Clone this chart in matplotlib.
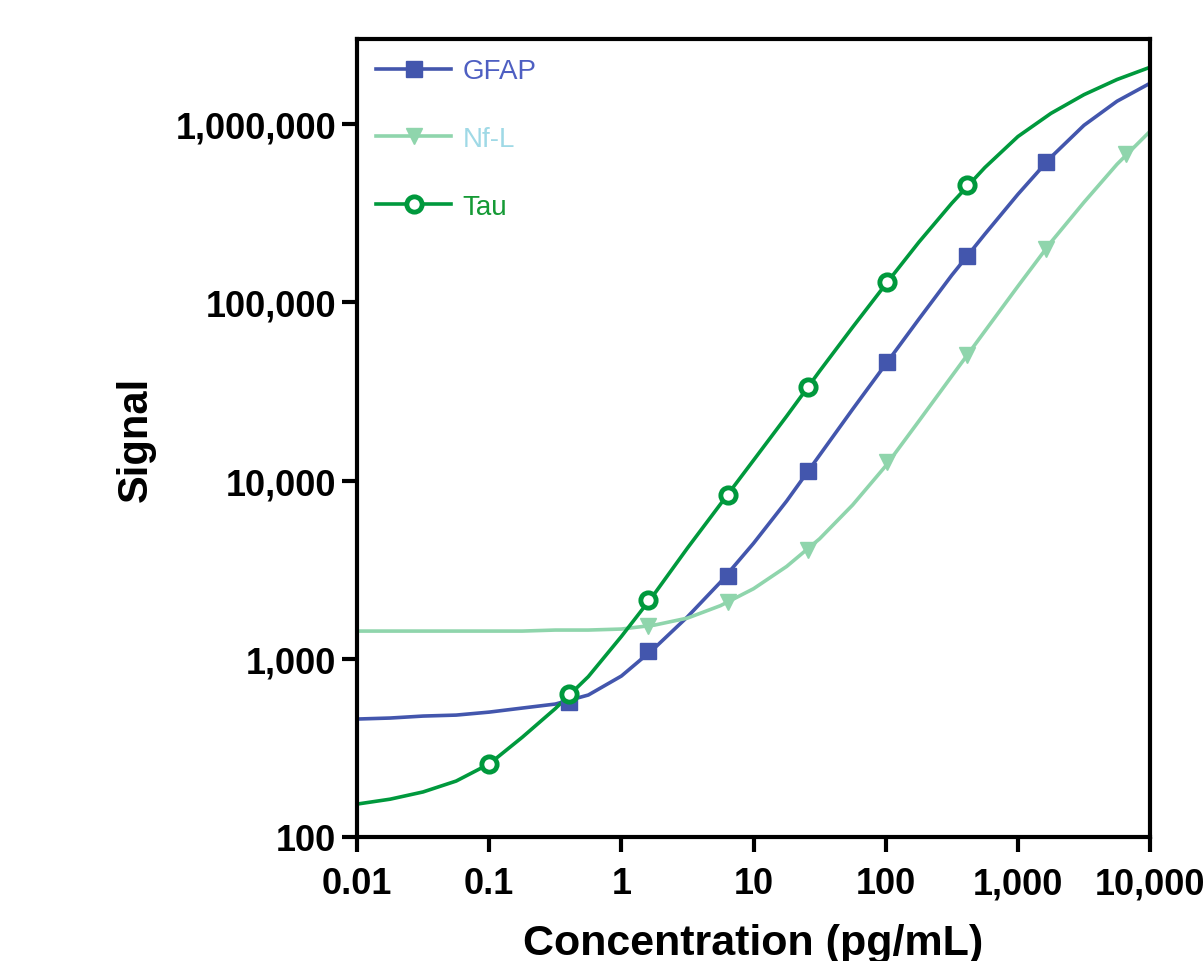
import matplotlib
matplotlib.use("Agg")
import matplotlib.pyplot as plt

plt.rcParams['font.family'] = ['Liberation Sans', 'DejaVu Sans']

# fitted curves, every quarter decade
curve_x = [0.01, 0.0178, 0.0316, 0.0562, 0.1, 0.178, 0.316, 0.562, 1.0,
           1.78, 3.16, 5.62, 10, 17.8, 31.6, 56.2, 100, 178, 316, 562,
           1000, 1778, 3162, 5623, 10000]

gfap_curve = [459, 465, 477, 483, 502, 529, 557, 626, 800, 1148, 1718, 2692,
              4446, 7674, 13880, 25130, 44980, 80400, 141900, 241000, 403500,
              651600, 984000, 1343000, 1694000]
nfl_curve = [1430, 1430, 1430, 1430, 1430, 1430, 1449, 1449, 1468, 1545,
             1691, 1986, 2472, 3296, 4710, 7295, 12080, 21540, 38520, 68840,
             123000, 217300, 364000, 595000, 911000]
tau_curve = [153, 163, 179, 206, 257, 363, 525, 794, 1334, 2317, 4178, 7375,
             13000, 22970, 41100, 72500, 126300, 217300, 359500, 570000,
             851000, 1148000, 1462000, 1778000, 2083000]

# measured standards
gfap_x = [0.4, 1.6, 6.4, 25.6, 102.4, 409.6, 1638.4]
gfap_y = [571, 1104, 2911, 11300, 46100, 181600, 611000]
nfl_x = [1.6, 6.4, 25.6, 102.4, 409.6, 1638.4, 6553.6]
nfl_y = [1524, 2080, 4074, 12680, 50400, 198800, 677000]
tau_x = [0.1, 0.4, 1.6, 6.4, 25.6, 102.4, 409.6]
tau_y = [256, 634, 2133, 8280, 33400, 129700, 454000]

x_ticks = [0.01, 0.1, 1, 10, 100, 1000, 10000]
x_labels = ['0.01', '0.1', '1', '10', '100', '1,000', '10,000']
y_ticks = [100, 1000, 10000, 100000, 1000000]
y_labels = ['100', '1,000', '10,000', '100,000', '1,000,000']

c_gfap = '#4356AD'
c_nfl = '#8FD5AC'
c_tau = '#00993D'

fig = plt.figure(figsize=(12.03, 9.62), dpi=100)
ax = fig.add_axes([0.2968, 0.1289, 0.6592, 0.8295])

ax.plot(curve_x, gfap_curve, color=c_gfap, lw=2.6)
ax.plot(curve_x, nfl_curve, color=c_nfl, lw=2.6)
ax.plot(curve_x, tau_curve, color=c_tau, lw=2.6)

ax.plot(gfap_x, gfap_y, ls='none', marker='s', ms=12, color=c_gfap)
ax.plot(nfl_x, nfl_y, ls='none', marker='v', ms=11, color=c_nfl)
ax.plot(tau_x, tau_y, ls='none', marker='o', ms=11, mfc='white',
        mec=c_tau, mew=3.5)

# legend handles: line with the marker in the middle
h1, = ax.plot([], [], color=c_gfap, lw=2.6, marker='s', ms=12)
h2, = ax.plot([], [], color=c_nfl, lw=2.6, marker='v', ms=11)
h3, = ax.plot([], [], color=c_tau, lw=2.6, marker='o', ms=11,
              mfc='white', mec=c_tau, mew=3.5)
leg = ax.legend([h1, h2, h3], ['GFAP', 'Nf-L', 'Tau'], loc='upper left',
                frameon=False, fontsize=20, handlelength=2.7,
                handletextpad=0.4, labelspacing=1.5, numpoints=1,
                borderaxespad=0.3, borderpad=0.4)
for txt, col in zip(leg.get_texts(), ['#4E5FC2', '#9FD9E6', '#159A35']):
    txt.set_color(col)

ax.set_xscale('log')
ax.set_yscale('log')
ax.set_xlim(0.01, 10000)
ax.set_ylim(100, 3.0e6)
ax.minorticks_off()
ax.set_xticks(x_ticks)
ax.set_xticklabels(x_labels, fontsize=26, fontweight='bold')
ax.set_yticks(y_ticks)
ax.set_yticklabels(y_labels, fontsize=26, fontweight='bold')
ax.tick_params(axis='both', which='major', length=11, width=3, direction='out')
ax.tick_params(axis='x', pad=10)
ax.tick_params(axis='y', pad=4)

for sp in ax.spines.values():
    sp.set_linewidth(3)

ax.set_xlabel('Concentration (pg/mL)', fontsize=31, fontweight='bold',
              labelpad=16)
ax.set_ylabel('Signal', fontsize=30, fontweight='bold', labelpad=14)

fig.savefig('out.png', dpi=100)
